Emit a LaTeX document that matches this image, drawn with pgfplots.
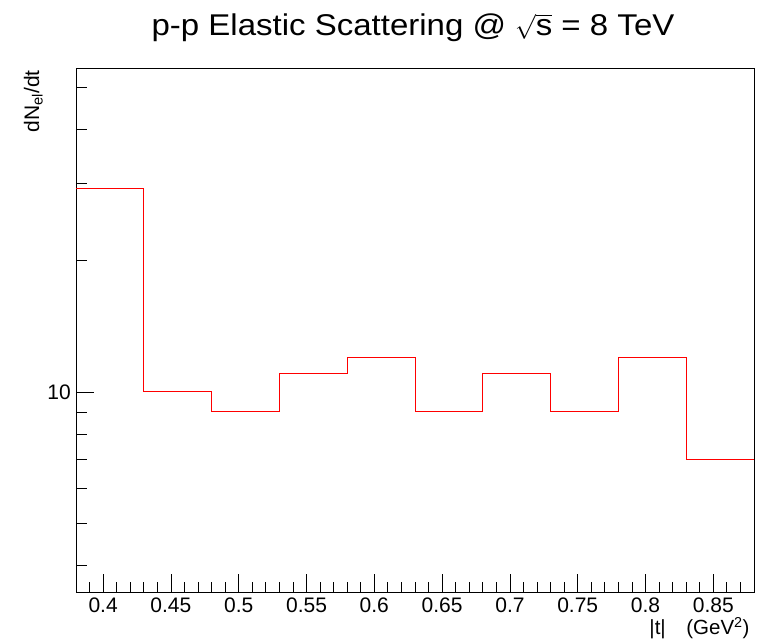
\documentclass[border=0pt]{standalone}
\usepackage{fontspec}
\setmainfont{Liberation Sans}
\newfontfamily\titlefont[FakeStretch=1.1]{Liberation Sans}
\usepackage{pgfplots}
\pgfplotsset{compat=1.18}
\usetikzlibrary{calc}

\begin{document}
\begin{tikzpicture}
\begin{axis}[
    name=ax, at={(0,0)}, anchor=south west,
    width=678pt, height=524pt, scale only axis,
    xmin=0.38, xmax=0.88,
    ymode=log, ymin=3.48, ymax=55.3,
    xtick={0.4,0.45,0.5,0.55,0.6,0.65,0.7,0.75,0.8,0.85},
    xticklabels={0.4,0.45,0.5,0.55,0.6,0.65,0.7,0.75,0.8,0.85},
    minor xtick={0.39,0.41,0.42,0.43,0.44,0.46,0.47,0.48,0.49,0.51,0.52,0.53,0.54,
      0.56,0.57,0.58,0.59,0.61,0.62,0.63,0.64,0.66,0.67,0.68,0.69,0.71,0.72,0.73,0.74,
      0.76,0.77,0.78,0.79,0.81,0.82,0.83,0.84,0.86,0.87},
    ytick={10}, yticklabels={10},
    minor ytick={4,5,6,7,8,9,20,30,40,50},
    xtick pos=bottom, ytick pos=left,
    tick align=inside,
    major tick length=18pt, minor tick length=10.5pt,
    tick style={black, line width=0.8pt},
    axis line style={black, line width=0.8pt},
    xticklabel style={anchor=base, yshift=-20.7pt, font=\fontsize{21}{23}\selectfont},
    yticklabel style={anchor=east, inner sep=0pt, xshift=-5pt, font=\fontsize{21}{23}\selectfont},
    clip=true,
]
% histogram, 10 bins of width 0.05
\addplot[const plot mark left, red, line width=1pt] coordinates {
  (0.38,29.2) (0.43,10) (0.48,9) (0.53,11) (0.58,12)
  (0.63,9) (0.68,11) (0.73,9) (0.78,12) (0.83,7) (0.88,7)
};
\end{axis}
% title and axis titles
\node[anchor=base, inner sep=0pt, font=\titlefont\fontsize{30}{33}\selectfont]
  at ($(ax.north)+(-2pt,32pt)$) {p-p Elastic Scattering @\hspace{0.3em}{\fontsize{25}{27}\selectfont$\sqrt{\mbox{\titlefont\fontsize{30}{33}\selectfont s}}$} = 8 TeV};
\node[anchor=base east, font=\fontsize{20.5}{23}\selectfont]
  at ($(ax.south east)+(-1pt,-43pt)$) {|t|\hspace{1em}(GeV\textsuperscript{2})};
\node[rotate=90, anchor=south east, inner sep=0pt, font=\fontsize{21}{23}\selectfont]
  at ($(ax.north west)+(-33pt,-2pt)$) {dN\textsubscript{el}/dt};
\path[use as bounding box] ($(ax.south west)+(-76pt,-52pt)$) rectangle ($(ax.north east)+(3pt,68pt)$);
\end{tikzpicture}
\end{document}
